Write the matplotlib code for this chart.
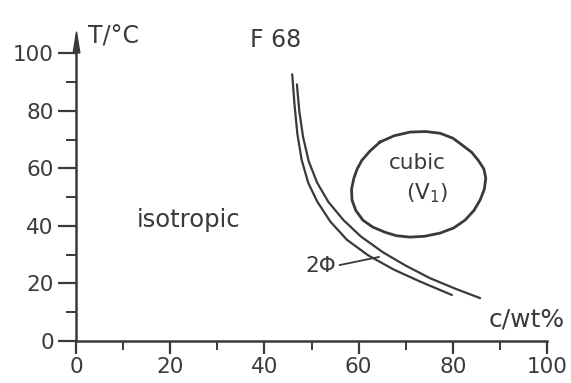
import matplotlib
matplotlib.use("Agg")
import matplotlib.pyplot as plt
from matplotlib.path import Path
from matplotlib.ticker import MultipleLocator

# Phase boundaries of F 68 (c in wt%, T in °C)
inner_c = [45.9, 46.4, 47.0, 47.9, 49.3, 51.2, 54.0, 57.5, 62.0, 67.5, 73.0, 79.8]
inner_T = [92.7, 82.0, 72.0, 63.0, 55.0, 48.5, 41.5, 35.2, 29.8, 24.8, 20.7, 16.0]

outer_c = [46.9, 47.4, 48.2, 49.4, 51.2, 53.6, 56.8, 60.5, 65.2, 70.0, 75.2, 80.5, 85.8]
outer_T = [89.2, 80.0, 71.0, 62.5, 55.0, 48.3, 42.0, 36.3, 30.8, 26.2, 21.8, 18.2, 14.9]

# closed loop around the cubic (V1) region
cubic_c = [64.5, 67.5, 70.9, 74.2, 77.3, 80.0, 82.0, 84.0, 85.4, 86.6, 87.0, 86.7,
           85.8, 84.5, 82.6, 80.2, 77.3, 74.0, 70.9, 68.0, 65.6, 63.0, 60.9, 59.4,
           58.6, 58.5, 59.0, 59.7, 60.7, 62.4, 64.5]
cubic_T = [69.1, 71.3, 72.6, 72.8, 72.2, 70.5, 68.1, 65.6, 62.8, 59.8, 56.6, 52.8,
           49.0, 45.4, 42.0, 39.3, 37.5, 36.4, 36.1, 36.6, 37.8, 39.6, 42.0, 45.4,
           49.0, 52.8, 56.6, 59.8, 62.8, 66.0, 69.1]

x_ticks = [0, 20, 40, 60, 80, 100]
y_ticks = [0, 20, 40, 60, 80, 100]

ink = "#3a3a3a"
plt.rcParams["font.family"] = "DejaVu Sans"

fig = plt.figure(figsize=(5.71, 3.83), dpi=100)
ax = fig.add_axes([76 / 571, 1 - 341 / 383, 471 / 571, 305 / 383])
ax.set_xlim(0, 100)
ax.set_ylim(0, 106)

for side in ("top", "right"):
    ax.spines[side].set_visible(False)
for side in ("left", "bottom"):
    ax.spines[side].set_color(ink)
    ax.spines[side].set_linewidth(1.8)

ax.set_xticks(x_ticks)
ax.set_yticks(y_ticks)
ax.xaxis.set_minor_locator(MultipleLocator(10))
ax.yaxis.set_minor_locator(MultipleLocator(10))
ax.tick_params(axis="x", which="major", direction="out", length=9.5, width=1.6,
               color=ink, labelcolor=ink, labelsize=15.5, pad=2)
ax.tick_params(axis="x", which="minor", direction="out", length=6.5, width=1.4, color=ink)
ax.tick_params(axis="y", which="major", direction="out", length=13, width=1.6,
               color=ink, labelcolor=ink, labelsize=15.5, pad=3)
ax.tick_params(axis="y", which="minor", direction="out", length=7, width=1.4, color=ink)

# arrow head on top of the T axis
head = Path([(-0.32, -1.0), (0.32, -1.0), (0.0, 1.0), (-0.32, -1.0)])
ax.plot([0], [104.0], marker=head, markersize=15, color=ink, clip_on=False)

ax.plot(inner_c, inner_T, color=ink, lw=1.6, solid_capstyle="round", solid_joinstyle="round")
ax.plot(outer_c, outer_T, color=ink, lw=1.6, solid_capstyle="round", solid_joinstyle="round")
ax.plot(cubic_c, cubic_T, color=ink, lw=2.0, solid_joinstyle="round")

# leader line for the two-phase label
ax.plot([56.0, 64.3], [26.4, 29.2], color=ink, lw=1.3)

ax.text(2.5, 106, "T/°C", fontsize=17, color=ink, va="center", ha="left")
ax.text(37.0, 104.5, "F 68", fontsize=17, color=ink, va="center", ha="left")
ax.text(12.8, 42, "isotropic", fontsize=17.5, color=ink, va="center", ha="left")
ax.text(72.4, 61.8, "cubic", fontsize=15.5, color=ink, va="center", ha="center")
ax.text(74.5, 51.4, "(V$_1$)", fontsize=15.5, color=ink, va="center", ha="center")
ax.text(55.3, 26.0, "2Φ", fontsize=15.5, color=ink, va="center", ha="right")
ax.text(103.8, 7.3, "c/wt%", fontsize=18, color=ink, va="center", ha="right")

fig.savefig("out.png", dpi=100)
